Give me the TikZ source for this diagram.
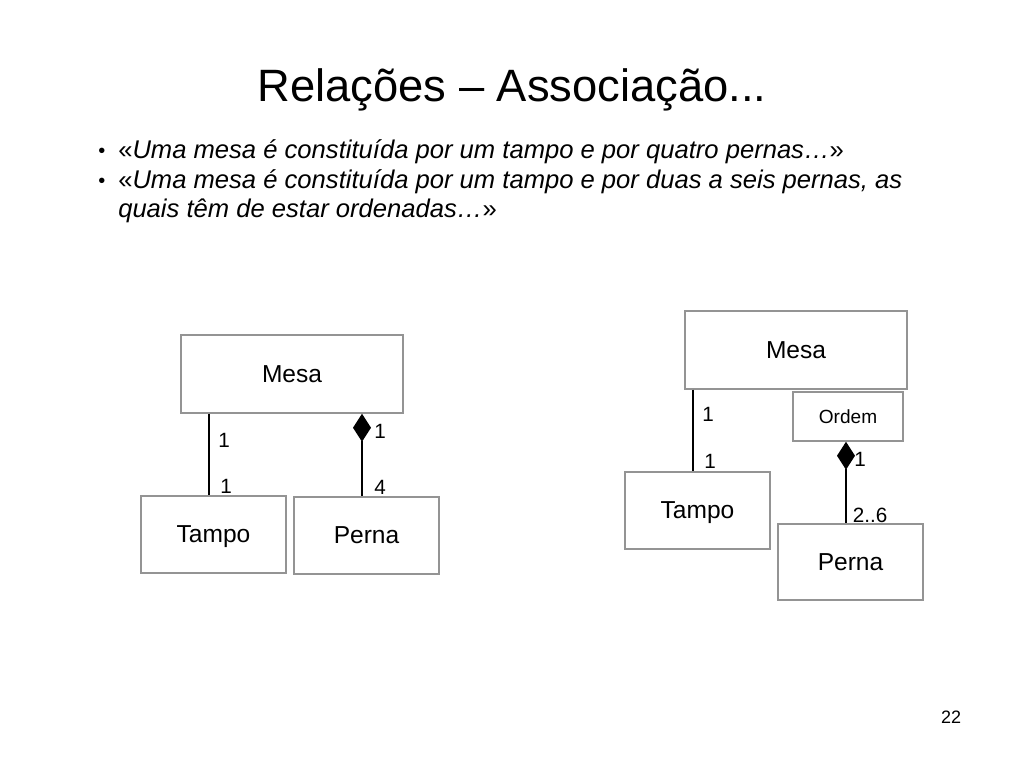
\documentclass[tikz,border=0pt]{standalone}
\usepackage{fontspec}
\setmainfont{Liberation Sans}
\usetikzlibrary{arrows.meta}
\newdimen\pxu \pxu=0.75pt
\tikzset{
  umlbox/.style={draw=black!42, line width=1.1pt, fill=white, inner sep=0pt,
    text depth=0pt, font=\fontsize{18.4pt}{22pt}\selectfont},
  smallbox/.style={umlbox, font=\fontsize{14.3pt}{17pt}\selectfont},
  mult/.style={inner sep=0pt, font=\fontsize{15.5pt}{18pt}\selectfont},
  conn/.style={draw=black, line width=1pt},
  comp/.style={conn, {Diamond[length=21pt,width=13.5pt]}-},
  bullettext/.style={anchor=base west, inner sep=0pt, font=\fontsize{19.2pt}{22pt}\selectfont\itshape},
  bulletmark/.style={anchor=base west, inner sep=0pt, font=\fontsize{15pt}{18pt}\selectfont},
}
\begin{document}
\begin{tikzpicture}[x=0.75pt,y=-0.75pt]
\useasboundingbox (0,0) rectangle (1024,768);
% title
\node[anchor=base, inner sep=0pt, font=\fontsize{34pt}{40pt}\selectfont] (title) at (512,101) {Relações – Associação...};
% bullets
\node[bulletmark] (b1) at (98,157) {•};
\node[bullettext] (t1) at (118,158) {\upshape«\itshape Uma mesa é constituída por um tampo e por quatro pernas…\upshape»};
\node[bulletmark] (b2) at (98,187) {•};
\node[bullettext] (t2) at (118,188) {\upshape«\itshape Uma mesa é constituída por um tampo e por duas a seis pernas, as};
\node[bullettext] (t3) at (118,217) {quais têm de estar ordenadas…\upshape»};
% left diagram
\node[umlbox, minimum width=222\pxu, minimum height=78\pxu] (lmesa) at (292,374) {Mesa};
\node[umlbox, minimum width=145\pxu, minimum height=77\pxu] (ltampo) at (213.5,534.5) {Tampo};
\node[umlbox, minimum width=145\pxu, minimum height=77\pxu] (lperna) at (366.5,535.5) {Perna};
\draw[conn] (209,0 |- lmesa.south) -- (209,0 |- ltampo.north);
\draw[comp] (362,0 |- lmesa.south) -- (362,0 |- lperna.north);
\node[mult] (l1a) at (224,440) {1};
\node[mult] (l1b) at (226,486) {1};
\node[mult] (l1c) at (380,431) {1};
\node[mult] (l4) at (380,487) {4};
% right diagram
\node[umlbox, minimum width=222\pxu, minimum height=78\pxu] (rmesa) at (796,350) {Mesa};
\node[smallbox, minimum width=110\pxu, minimum height=49\pxu] (rordem) at (848,416.5) {Ordem};
\node[umlbox, minimum width=145\pxu, minimum height=77\pxu] (rtampo) at (697.5,510.5) {Tampo};
\node[umlbox, minimum width=145\pxu, minimum height=76\pxu] (rperna) at (850.5,562) {Perna};
\draw[conn] (693,0 |- rmesa.south) -- (693,0 |- rtampo.north);
\draw[comp] (846,0 |- rordem.south) -- (846,0 |- rperna.north);
\node[mult] (r1a) at (708,414) {1};
\node[mult] (r1b) at (710,461) {1};
\node[mult] (r1c) at (860,459) {1};
\node[mult] (r26) at (870,515) {2..6};
% page number
\node[inner sep=0pt, font=\fontsize{13.5pt}{16pt}\selectfont] (page) at (951,717) {22};
\end{tikzpicture}
\end{document}
